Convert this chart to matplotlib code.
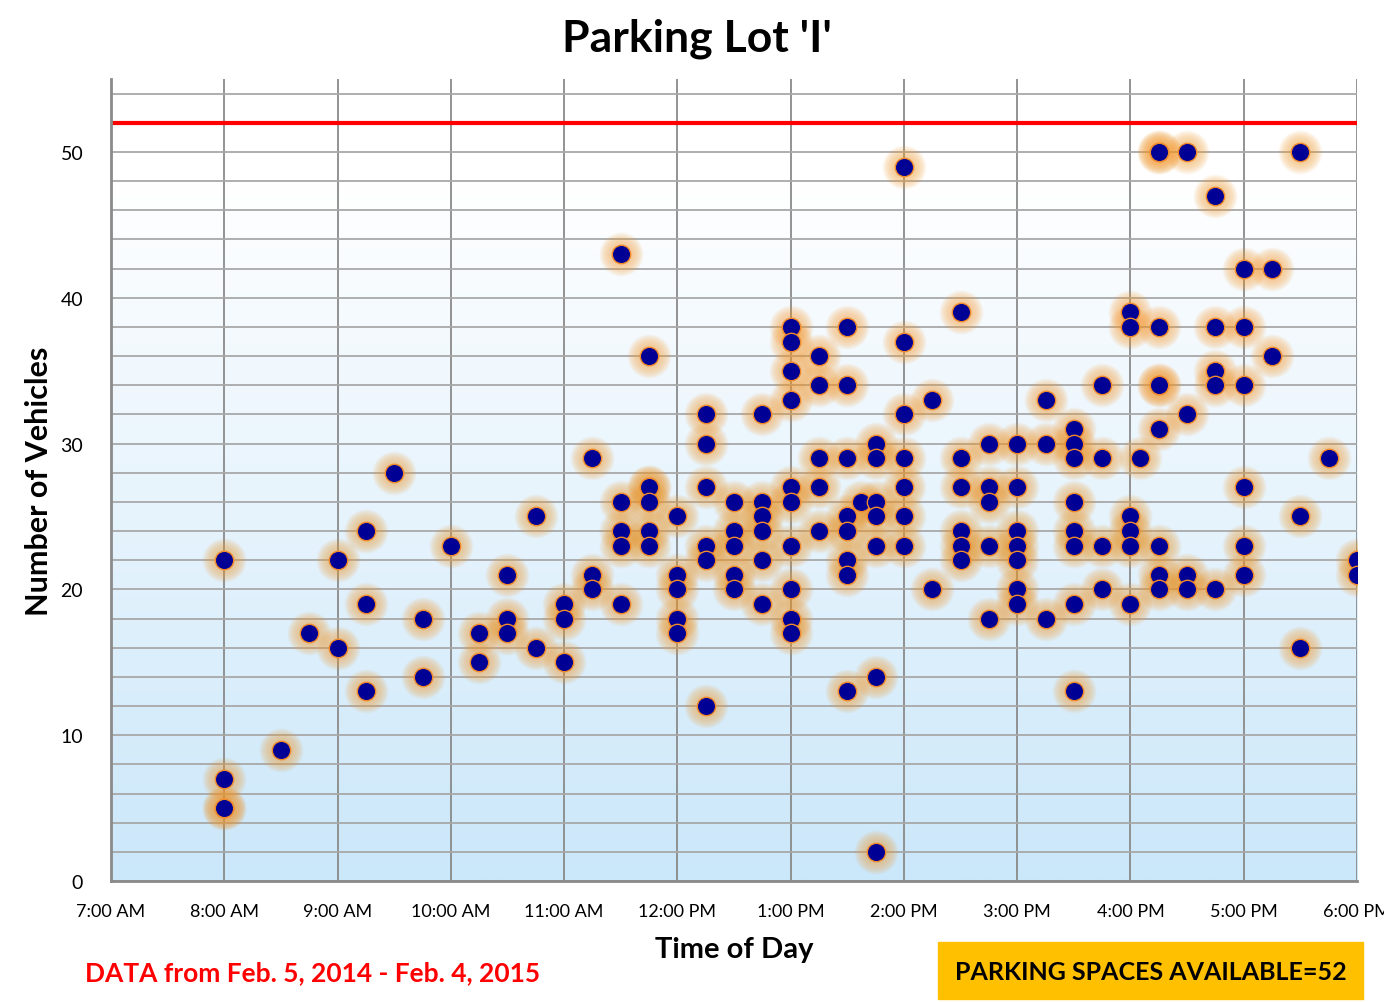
import numpy as np
import matplotlib
matplotlib.use("Agg")
import matplotlib.pyplot as plt
from matplotlib.colors import LinearSegmentedColormap
from matplotlib.patches import Rectangle

# observation times (hours since midnight) and vehicle counts seen at that time
obs_hours = [8.0, 8.5, 8.75, 9.0, 9.25, 9.5, 9.75, 10.0, 10.25, 10.5, 10.75,
             11.0, 11.25, 11.5, 11.75, 12.0, 12.25, 12.5, 12.75, 13.0, 13.25,
             13.5, 13.625, 13.75, 14.0, 14.25, 14.5, 14.75, 15.0, 15.25, 15.5,
             15.75, 16.0, 16.083, 16.25, 16.5, 16.75, 17.0, 17.25, 17.5, 17.75,
             18.0]
obs_counts = [
    [22, 7, 5, 5], [9], [17], [22, 16], [24, 19, 13], [28], [18, 14], [23],
    [17, 15], [21, 18, 17], [25, 16], [19, 18, 15], [29, 21, 20],
    [43, 26, 24, 23, 19], [36, 27, 27, 26, 24, 23], [25, 21, 20, 18, 17],
    [32, 30, 27, 23, 22, 12], [26, 24, 23, 21, 20], [32, 26, 25, 24, 22, 19],
    [38, 37, 35, 33, 27, 26, 23, 20, 18, 17], [36, 34, 29, 27, 24],
    [38, 34, 29, 25, 24, 22, 21, 13], [26], [30, 29, 26, 25, 23, 14, 2],
    [49, 37, 32, 29, 27, 25, 23], [33, 20], [39, 29, 27, 24, 23, 22],
    [30, 27, 26, 23, 18], [30, 27, 24, 23, 22, 20, 19], [33, 30, 18],
    [31, 30, 29, 26, 24, 23, 19, 13], [34, 29, 23, 20],
    [39, 38, 25, 24, 23, 19], [29], [50, 50, 38, 34, 34, 31, 23, 21, 20],
    [50, 32, 21, 20], [47, 38, 35, 34, 20], [42, 38, 34, 27, 23, 21],
    [42, 36], [50, 25, 16], [29], [22, 21]]

hour_ticks = list(range(7, 19))
hour_labels = ["7:00 AM", "8:00 AM", "9:00 AM", "10:00 AM", "11:00 AM",
               "12:00 PM", "1:00 PM", "2:00 PM", "3:00 PM", "4:00 PM",
               "5:00 PM", "6:00 PM"]
capacity = 52

x = np.concatenate([[h] * len(c) for h, c in zip(obs_hours, obs_counts)])
y = np.concatenate([c for c in obs_counts]).astype(float)

FONT = ["Lato", "DejaVu Sans"]
plt.rcParams["font.family"] = FONT

fig = plt.figure(figsize=(13.84, 10.03), dpi=100)
ax = fig.add_axes([0.0802, 0.1206, 0.9003, 0.7996])
ax.set_xlim(7, 18)
ax.set_ylim(0, 55)

# background: white at the top fading to pale blue at the bottom
rows = np.linspace(55, 0, 400)
shade = np.clip((48 - rows) / 48, 0, 1)[:, None]
cmap = LinearSegmentedColormap.from_list("bg", ["#ffffff", "#cbe7fa"])
ax.imshow(shade, cmap=cmap, extent=[7, 18, 0, 55], aspect="auto",
          vmin=0, vmax=1, zorder=0)

ax.set_yticks(range(0, 51, 10))
ax.set_yticks(range(0, 55, 2), minor=True)
ax.set_xticks(hour_ticks)
ax.set_xticklabels(hour_labels)
ax.grid(axis="y", which="both", color="#a8a8a8", lw=1.3, zorder=1)
ax.grid(axis="x", which="major", color="#8a8a8a", lw=1.3, zorder=1)
ax.tick_params(which="both", length=0)
ax.tick_params(axis="x", labelsize=13, pad=16)
ax.tick_params(axis="y", labelsize=14, pad=20)
for s in ("top", "right"):
    ax.spines[s].set_visible(False)
for s in ("left", "bottom"):
    ax.spines[s].set_color("#8a8a8a")
    ax.spines[s].set_linewidth(2)

ax.axhline(capacity, color="#ff0000", lw=3, zorder=2)

# soft orange glow under each point (many thin layers -> smooth falloff)
for size in np.linspace(1000, 250, 10):
    ax.scatter(x, y, s=size, color="#f59a2c", alpha=0.06, lw=0, zorder=3)
ax.scatter(x, y, s=175, color="#000094", edgecolors="#f08a2a", lw=1.0,
           zorder=4)

fig.text(0.5035, 0.961, "Parking Lot 'I'", ha="center", va="center",
         fontsize=32, fontweight="bold")
fig.text(0.028, 0.52, "Number of Vehicles", rotation=90, ha="center",
         va="center", fontsize=22, fontweight="bold")
fig.text(0.5305, 0.053, "Time of Day", ha="center", va="center",
         fontsize=21, fontweight="bold")
fig.text(0.226, 0.030, "DATA from Feb. 5, 2014 - Feb. 4, 2015", ha="center",
         va="center", fontsize=19, fontweight="bold", color="#ff0000")
fig.patches.append(Rectangle((0.6778, 0.003), 0.3071, 0.057,
                             transform=fig.transFigure, color="#ffc000"))
fig.text(0.8315, 0.030, "PARKING SPACES AVAILABLE=52", ha="center",
         va="center", fontsize=18, fontweight="bold")

fig.savefig("out.png", dpi=100)
